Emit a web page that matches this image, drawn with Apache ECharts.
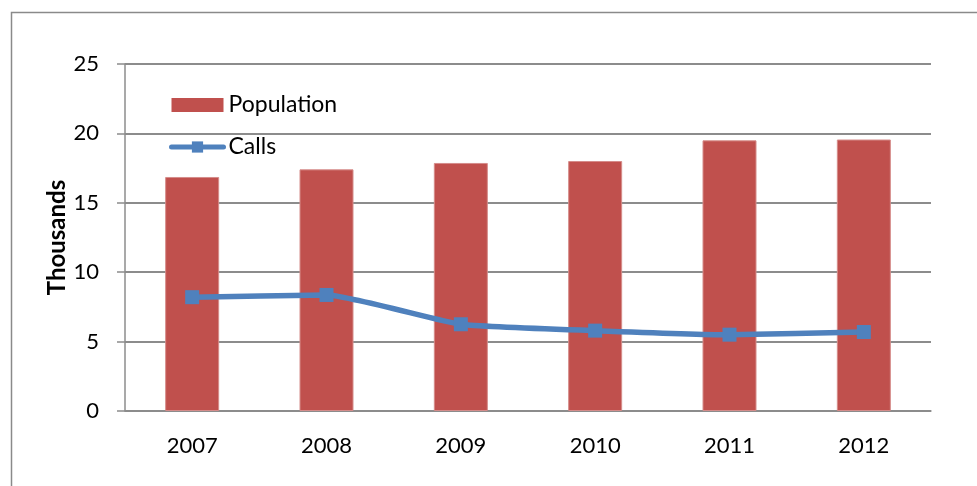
<!DOCTYPE html>
<html>
<head>
<meta charset="utf-8">
<script src="https://cdn.jsdelivr.net/npm/echarts@6/dist/echarts.min.js"></script>
<style>
  html, body { margin: 0; padding: 0; background: #fff; }
  #chart { width: 977px; height: 486px; }
</style>
</head>
<body>
<div id="chart"></div>
<script>
// Yearly figures, in thousands
const years = ['2007', '2008', '2009', '2010', '2011', '2012'];
const population = [16.86, 17.41, 17.87, 18.01, 19.50, 19.56];
const calls = [8.20, 8.36, 6.25, 5.79, 5.50, 5.69];
const yTicks = { min: 0, max: 25, interval: 5 };

const FONT = 'Lato, "Open Sans", sans-serif';
const GRID_GREY = '#8c8c8c';
const BAR_RED = '#C0504D';
const LINE_BLUE = '#4F81BD';

const chart = echarts.init(document.getElementById('chart'), null, { renderer: 'canvas' });

chart.setOption({
  animation: false,
  backgroundColor: '#fff',
  textStyle: { fontFamily: FONT },
  graphic: [{
    type: 'rect',
    left: 9, top: 10,
    shape: { width: 1000, height: 500 },
    style: { fill: 'none', stroke: '#8a8a8a', lineWidth: 1.5 },
    silent: true
  }],
  grid: { left: 125, right: 46, top: 64, bottom: 75 },
  legend: {
    orient: 'vertical',
    left: 169, top: 93,
    padding: 0,
    itemWidth: 52, itemHeight: 14,
    itemGap: 18,
    textStyle: { fontFamily: FONT, fontSize: 23, color: '#000', lineHeight: 24 },
    data: [
      { name: 'Population', icon: 'rect', itemStyle: { color: BAR_RED, borderWidth: 0 } },
      { name: 'Calls', lineStyle: { color: LINE_BLUE, width: 5, cap: 'round' }, itemStyle: { color: LINE_BLUE } }
    ]
  },
  xAxis: {
    type: 'category',
    data: years,
    boundaryGap: true,
    axisLine: { lineStyle: { color: GRID_GREY, width: 1.5 } },
    axisTick: { length: 8, lineStyle: { color: GRID_GREY, width: 1.5 } },
    axisLabel: { color: '#000', fontSize: 22, fontFamily: FONT, margin: 24 }
  },
  yAxis: {
    type: 'value',
    min: yTicks.min, max: yTicks.max, interval: yTicks.interval,
    name: 'Thousands',
    nameLocation: 'middle',
    nameGap: 56,
    nameMoveOverlap: false,
    nameTextStyle: { color: '#000', fontSize: 24, fontWeight: 'bold', fontFamily: FONT },
    axisLine: { show: true, lineStyle: { color: GRID_GREY, width: 1.5 } },
    axisTick: { show: true, length: 8, lineStyle: { color: GRID_GREY, width: 1.5 } },
    axisLabel: { color: '#000', fontSize: 22, fontFamily: FONT, margin: 26 },
    splitLine: { lineStyle: { color: GRID_GREY, width: 2 } }
  },
  series: [
    {
      name: 'Population',
      type: 'bar',
      data: population,
      barWidth: 54,
      itemStyle: { color: BAR_RED, borderColor: '#d58c8a', borderWidth: 1 },
      z: 2
    },
    {
      name: 'Calls',
      type: 'line',
      data: calls,
      smooth: 0.15,
      symbol: 'rect',
      symbolSize: 14,
      lineStyle: { color: LINE_BLUE, width: 5.5 },
      itemStyle: { color: LINE_BLUE },
      z: 3
    }
  ]
});
</script>
</body>
</html>
